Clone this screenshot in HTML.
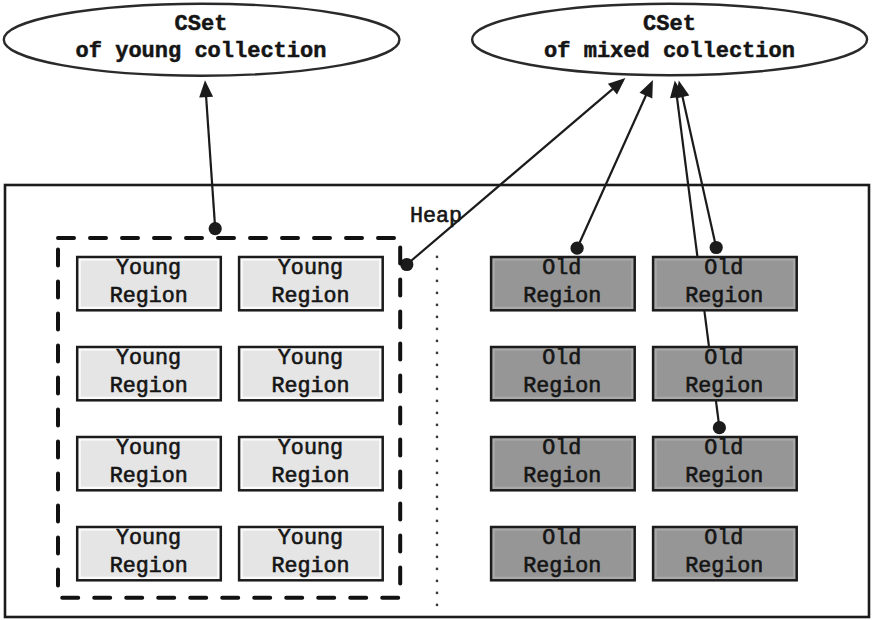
<!DOCTYPE html>
<html><head><meta charset="utf-8"><style>
html,body{margin:0;padding:0;background:#fff;}
svg{display:block;}
text{font-family:"Liberation Mono",monospace;fill:#151515;stroke:#151515;}
.e{font-size:22.0px;font-weight:bold;text-anchor:middle;stroke-width:0.5px;}
.b{font-size:21.7px;text-anchor:middle;stroke-width:0.6px;}
.h{font-size:21.7px;stroke-width:0.6px;}
</style></head><body>
<svg width="872" height="620" viewBox="0 0 872 620">
<ellipse cx="201.6" cy="39.7" rx="197.8" ry="36" fill="#fff" stroke="#2a2a2a" stroke-width="2.4"/>
<ellipse cx="669.6" cy="39.5" rx="197.5" ry="35.7" fill="#fff" stroke="#2a2a2a" stroke-width="2.4"/>
<text x="201" y="29.6" class="e">CSet</text>
<text x="669.5" y="29.6" class="e">CSet</text>
<text x="201" y="57.3" class="e">of young collection</text>
<text x="669.5" y="57.3" class="e">of mixed collection</text>
<rect x="5" y="185" width="864" height="432" fill="none" stroke="#1b1b1b" stroke-width="2.6"/>
<text x="410" y="221.8" class="h">Heap</text>
<circle cx="437" cy="256.9" r="1.35" fill="#3a3a3a"/><circle cx="437" cy="268.9" r="1.35" fill="#3a3a3a"/><circle cx="437" cy="280.9" r="1.35" fill="#3a3a3a"/><circle cx="437" cy="292.9" r="1.35" fill="#3a3a3a"/><circle cx="437" cy="304.9" r="1.35" fill="#3a3a3a"/><circle cx="437" cy="316.9" r="1.35" fill="#3a3a3a"/><circle cx="437" cy="328.9" r="1.35" fill="#3a3a3a"/><circle cx="437" cy="340.9" r="1.35" fill="#3a3a3a"/><circle cx="437" cy="352.9" r="1.35" fill="#3a3a3a"/><circle cx="437" cy="364.9" r="1.35" fill="#3a3a3a"/><circle cx="437" cy="376.9" r="1.35" fill="#3a3a3a"/><circle cx="437" cy="388.9" r="1.35" fill="#3a3a3a"/><circle cx="437" cy="400.9" r="1.35" fill="#3a3a3a"/><circle cx="437" cy="412.9" r="1.35" fill="#3a3a3a"/><circle cx="437" cy="424.9" r="1.35" fill="#3a3a3a"/><circle cx="437" cy="436.9" r="1.35" fill="#3a3a3a"/><circle cx="437" cy="448.9" r="1.35" fill="#3a3a3a"/><circle cx="437" cy="460.9" r="1.35" fill="#3a3a3a"/><circle cx="437" cy="472.9" r="1.35" fill="#3a3a3a"/><circle cx="437" cy="484.9" r="1.35" fill="#3a3a3a"/><circle cx="437" cy="496.9" r="1.35" fill="#3a3a3a"/><circle cx="437" cy="508.9" r="1.35" fill="#3a3a3a"/><circle cx="437" cy="520.9" r="1.35" fill="#3a3a3a"/><circle cx="437" cy="532.9" r="1.35" fill="#3a3a3a"/><circle cx="437" cy="544.9" r="1.35" fill="#3a3a3a"/><circle cx="437" cy="556.9" r="1.35" fill="#3a3a3a"/><circle cx="437" cy="568.9" r="1.35" fill="#3a3a3a"/><circle cx="437" cy="580.9" r="1.35" fill="#3a3a3a"/><circle cx="437" cy="592.9" r="1.35" fill="#3a3a3a"/><circle cx="437" cy="604.9" r="1.35" fill="#3a3a3a"/>
<line x1="215.2" y1="228.6" x2="206.0" y2="95.2" stroke="#1b1b1b" stroke-width="2.2"/><path d="M205.0 80.2L213.1 96.7L199.2 97.6Z" fill="#1b1b1b"/><circle cx="215.2" cy="228.6" r="6.6" fill="#1b1b1b"/>
<line x1="406.8" y1="264.5" x2="614.0" y2="87.8" stroke="#1b1b1b" stroke-width="2.2"/><path d="M625.4 78.1L617.0 94.5L607.9 83.8Z" fill="#1b1b1b"/><circle cx="406.8" cy="264.5" r="6.6" fill="#1b1b1b"/>
<line x1="577.1" y1="248.2" x2="646.7" y2="93.8" stroke="#1b1b1b" stroke-width="2.2"/><path d="M652.9 80.1L652.3 98.5L639.5 92.7Z" fill="#1b1b1b"/><circle cx="577.1" cy="248.2" r="6.6" fill="#1b1b1b"/>
<line x1="719.4" y1="427.7" x2="676.7" y2="95.4" stroke="#1b1b1b" stroke-width="2.2"/><path d="M674.8 80.5L683.9 96.5L670.0 98.3Z" fill="#1b1b1b"/><circle cx="719.4" cy="427.7" r="6.6" fill="#1b1b1b"/>
<line x1="716.2" y1="247.5" x2="682.1" y2="95.1" stroke="#1b1b1b" stroke-width="2.2"/><path d="M678.8 80.5L689.3 95.6L675.7 98.6Z" fill="#1b1b1b"/><circle cx="716.2" cy="247.5" r="6.6" fill="#1b1b1b"/>
<path d="M58.0 238h16M90.0 238h16M122.0 238h16M154.0 238h16M186.0 238h16M218.0 238h16M250.0 238h16M282.0 238h16M314.0 238h16M346.0 238h16M378.0 238h16M62.2 597.8h16M94.2 597.8h16M126.2 597.8h16M158.2 597.8h16M190.2 597.8h16M222.2 597.8h16M254.2 597.8h16M286.2 597.8h16M318.2 597.8h16M350.2 597.8h16M382.2 597.8h16M58 249.6v16M58 281.6v16M58 313.6v16M58 345.6v16M58 377.6v16M58 409.6v16M58 441.6v16M58 473.6v16M58 505.6v16M58 537.6v16M58 569.6v16M400.2 247.6v16M400.2 279.6v16M400.2 311.6v16M400.2 343.6v16M400.2 375.6v16M400.2 407.6v16M400.2 439.6v16M400.2 471.6v16M400.2 503.6v16M400.2 535.6v16M400.2 567.6v16" stroke="#111" stroke-width="4" stroke-linecap="round" fill="none"/>
<rect x="77.2" y="257.0" width="143.6" height="53.3" fill="#fbfbfb" stroke="#1b1b1b" stroke-width="2.5"/>
<rect x="80.8" y="260.6" width="136.4" height="46.099999999999994" fill="#e5e5e5"/>
<text x="148.5" y="273.6" class="b">Young</text>
<text x="148.7" y="301.7" class="b">Region</text>
<rect x="239.1" y="257.0" width="143.6" height="53.3" fill="#fbfbfb" stroke="#1b1b1b" stroke-width="2.5"/>
<rect x="242.7" y="260.6" width="136.4" height="46.099999999999994" fill="#e5e5e5"/>
<text x="310.4" y="273.6" class="b">Young</text>
<text x="310.6" y="301.7" class="b">Region</text>
<rect x="77.2" y="347.0" width="143.6" height="53.3" fill="#fbfbfb" stroke="#1b1b1b" stroke-width="2.5"/>
<rect x="80.8" y="350.6" width="136.4" height="46.099999999999994" fill="#e5e5e5"/>
<text x="148.5" y="363.6" class="b">Young</text>
<text x="148.7" y="391.7" class="b">Region</text>
<rect x="239.1" y="347.0" width="143.6" height="53.3" fill="#fbfbfb" stroke="#1b1b1b" stroke-width="2.5"/>
<rect x="242.7" y="350.6" width="136.4" height="46.099999999999994" fill="#e5e5e5"/>
<text x="310.4" y="363.6" class="b">Young</text>
<text x="310.6" y="391.7" class="b">Region</text>
<rect x="77.2" y="437.0" width="143.6" height="53.3" fill="#fbfbfb" stroke="#1b1b1b" stroke-width="2.5"/>
<rect x="80.8" y="440.6" width="136.4" height="46.099999999999994" fill="#e5e5e5"/>
<text x="148.5" y="453.6" class="b">Young</text>
<text x="148.7" y="481.7" class="b">Region</text>
<rect x="239.1" y="437.0" width="143.6" height="53.3" fill="#fbfbfb" stroke="#1b1b1b" stroke-width="2.5"/>
<rect x="242.7" y="440.6" width="136.4" height="46.099999999999994" fill="#e5e5e5"/>
<text x="310.4" y="453.6" class="b">Young</text>
<text x="310.6" y="481.7" class="b">Region</text>
<rect x="77.2" y="527.0" width="143.6" height="53.3" fill="#fbfbfb" stroke="#1b1b1b" stroke-width="2.5"/>
<rect x="80.8" y="530.6" width="136.4" height="46.099999999999994" fill="#e5e5e5"/>
<text x="148.5" y="543.6" class="b">Young</text>
<text x="148.7" y="571.7" class="b">Region</text>
<rect x="239.1" y="527.0" width="143.6" height="53.3" fill="#fbfbfb" stroke="#1b1b1b" stroke-width="2.5"/>
<rect x="242.7" y="530.6" width="136.4" height="46.099999999999994" fill="#e5e5e5"/>
<text x="310.4" y="543.6" class="b">Young</text>
<text x="310.6" y="571.7" class="b">Region</text>
<rect x="491.1" y="257.0" width="143.6" height="53.3" fill="#a9a9a9" stroke="#1b1b1b" stroke-width="2.5"/>
<rect x="494.70000000000005" y="260.6" width="136.4" height="46.099999999999994" fill="#969696"/>
<text x="561.7" y="273.6" class="b">Old</text>
<text x="562.2" y="301.7" class="b">Region</text>
<rect x="653.1" y="257.0" width="143.6" height="53.3" fill="#a9a9a9" stroke="#1b1b1b" stroke-width="2.5"/>
<rect x="656.7" y="260.6" width="136.4" height="46.099999999999994" fill="#969696"/>
<text x="723.7" y="273.6" class="b">Old</text>
<text x="724.2" y="301.7" class="b">Region</text>
<rect x="491.1" y="347.0" width="143.6" height="53.3" fill="#a9a9a9" stroke="#1b1b1b" stroke-width="2.5"/>
<rect x="494.70000000000005" y="350.6" width="136.4" height="46.099999999999994" fill="#969696"/>
<text x="561.7" y="363.6" class="b">Old</text>
<text x="562.2" y="391.7" class="b">Region</text>
<rect x="653.1" y="347.0" width="143.6" height="53.3" fill="#a9a9a9" stroke="#1b1b1b" stroke-width="2.5"/>
<rect x="656.7" y="350.6" width="136.4" height="46.099999999999994" fill="#969696"/>
<text x="723.7" y="363.6" class="b">Old</text>
<text x="724.2" y="391.7" class="b">Region</text>
<rect x="491.1" y="437.0" width="143.6" height="53.3" fill="#a9a9a9" stroke="#1b1b1b" stroke-width="2.5"/>
<rect x="494.70000000000005" y="440.6" width="136.4" height="46.099999999999994" fill="#969696"/>
<text x="561.7" y="453.6" class="b">Old</text>
<text x="562.2" y="481.7" class="b">Region</text>
<rect x="653.1" y="437.0" width="143.6" height="53.3" fill="#a9a9a9" stroke="#1b1b1b" stroke-width="2.5"/>
<rect x="656.7" y="440.6" width="136.4" height="46.099999999999994" fill="#969696"/>
<text x="723.7" y="453.6" class="b">Old</text>
<text x="724.2" y="481.7" class="b">Region</text>
<rect x="491.1" y="527.0" width="143.6" height="53.3" fill="#a9a9a9" stroke="#1b1b1b" stroke-width="2.5"/>
<rect x="494.70000000000005" y="530.6" width="136.4" height="46.099999999999994" fill="#969696"/>
<text x="561.7" y="543.6" class="b">Old</text>
<text x="562.2" y="571.7" class="b">Region</text>
<rect x="653.1" y="527.0" width="143.6" height="53.3" fill="#a9a9a9" stroke="#1b1b1b" stroke-width="2.5"/>
<rect x="656.7" y="530.6" width="136.4" height="46.099999999999994" fill="#969696"/>
<text x="723.7" y="543.6" class="b">Old</text>
<text x="724.2" y="571.7" class="b">Region</text>
</svg>
</body></html>
